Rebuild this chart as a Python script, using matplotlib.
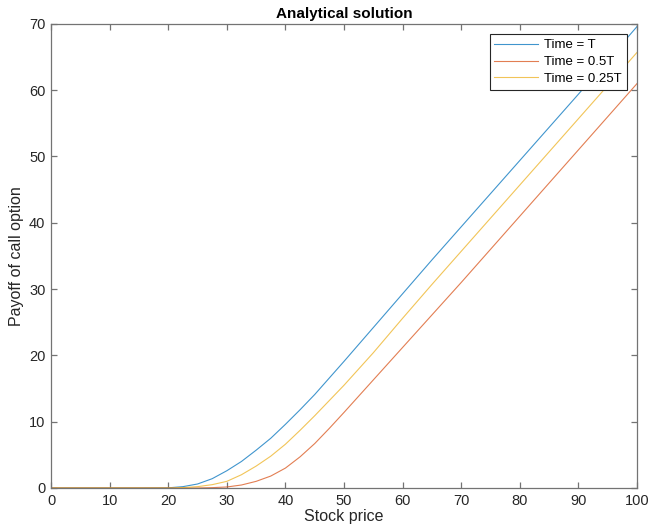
import numpy as np
import matplotlib
matplotlib.use("Agg")
import matplotlib.pyplot as plt

plt.rcParams['font.family'] = ['Liberation Sans', 'DejaVu Sans']

# stock price grid and option values read for each time slice
stock = [0, 5, 10, 15, 20, 22.5, 25, 27.5, 30, 32.5, 35, 37.5, 40, 42.5, 45,
         47.5, 50, 55, 60, 65, 70, 75, 80, 85, 90, 95, 100]
value_T = [0, 0, 0, 0, 0.02, 0.2, 0.6, 1.4, 2.6, 4.0, 5.7, 7.5, 9.6, 11.8, 14.1,
           16.6, 19.1, 24.2, 29.3, 34.4, 39.4, 44.4, 49.4, 54.4, 59.4, 64.5, 69.6]
value_half = [0, 0, 0, 0, 0, 0, 0, 0.05, 0.15, 0.45, 1.0, 1.8, 3.0, 4.7, 6.7,
              9.0, 11.4, 16.3, 21.2, 26.1, 31.0, 36.0, 41.0, 46.0, 51.0, 56.0, 61.0]
value_quarter = [0, 0, 0, 0, 0, 0.05, 0.2, 0.5, 1.0, 2.0, 3.3, 4.8, 6.6, 8.7, 10.9,
                 13.2, 15.5, 20.4, 25.6, 30.7, 35.7, 40.7, 45.7, 50.7, 55.7, 60.7, 65.7]

labels = ['Time = T', 'Time = 0.5T', 'Time = 0.25T']
colors = [(0, 0.447, 0.741), (0.85, 0.325, 0.098), (0.929, 0.694, 0.125)]

fig = plt.figure(figsize=(6.49, 5.28), dpi=100)
ax = fig.add_axes([0.0786, 0.0758, 0.903, 0.879])

for vals, lab, col in zip([value_T, value_half, value_quarter], labels, colors):
    ax.plot(stock, vals, color=col, linewidth=0.8, alpha=0.75, label=lab)

ax.set_xlim(0, 100)
ax.set_ylim(0, 70)
ax.set_xticks(np.arange(0, 101, 10))
ax.set_yticks(np.arange(0, 71, 10))

axcol = (0.15, 0.15, 0.15)
spcol = (0.45, 0.45, 0.45)
for sp in ax.spines.values():
    sp.set_color(spcol)
    sp.set_linewidth(0.9)
ax.tick_params(direction='in', top=True, right=True, length=4, width=0.9,
               color=spcol, labelcolor=axcol, labelsize=10.5, pad=4)

ax.set_xlabel('Stock price', fontsize=11.5, color=axcol, labelpad=1)
ax.set_ylabel('Payoff of call option', fontsize=11.5, color=axcol, labelpad=4)
ax.set_title('Analytical solution', fontsize=11, fontweight='bold', pad=4)

leg = ax.legend(loc='upper right', fontsize=9.5, fancybox=False, framealpha=1,
                edgecolor=axcol, handlelength=3.3, borderaxespad=0.8,
                borderpad=0.35, labelspacing=0.35, handletextpad=0.5)
leg.get_frame().set_linewidth(0.8)

fig.savefig('out.png', dpi=100)
